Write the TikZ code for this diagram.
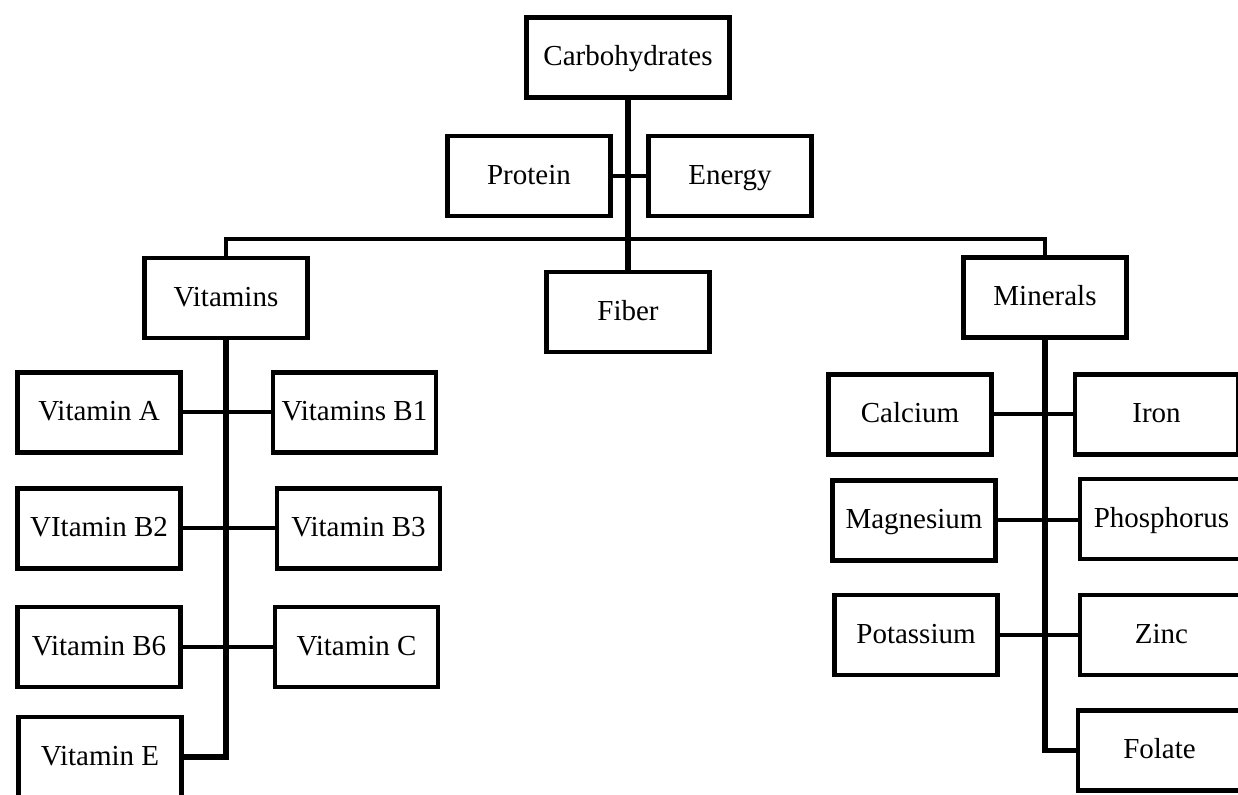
\documentclass[tikz,border=0pt]{standalone}
\usepackage{fontspec}
\setmainfont{Liberation Serif}
\begin{document}
\begin{tikzpicture}[x=0.5pt,y=-0.5pt,
  box/.style={draw=black, line width=2.25pt, minimum width=81.5pt, minimum height=40pt,
    inner sep=0pt, text height=0.95em, text depth=0.1em,
    font=\fontsize{14.5}{17}\selectfont, text=black},
  wide/.style={minimum width=101.5pt},
  link/.style={draw=black, line width=2pt},
  trunk/.style={draw=black, line width=2.6pt}]
\useasboundingbox (0,0) rectangle (1238,795);
\clip (0,0) rectangle (1238,795);
\fill[white] (0,0) rectangle (1238,795);
% top
\node[box,wide] (carb) at (628,57.5) {Carbohydrates};
\node[box] (protein) at (529,176) {Protein};
\node[box] (energy) at (730,176) {Energy};
\node[box] (fiber) at (628,312) {Fiber};
\node[box] (vitamins) at (226,298) {Vitamins};
\node[box] (minerals) at (1045,297.5) {Minerals};
% vitamins
\node[box] (vA) at (99,412.5) {Vitamin A};
\node[box] (vB1) at (354.5,412.5) {Vitamins B1};
\node[box] (vB2) at (99,528.5) {VItamin B2};
\node[box] (vB3) at (358.5,528.5) {Vitamin B3};
\node[box] (vB6) at (99,647) {Vitamin B6};
\node[box] (vC) at (356.5,647) {Vitamin C};
\node[box] (vE) at (100,757) {Vitamin E};
% minerals
\node[box] (ca) at (910,414.5) {Calcium};
\node[box] (fe) at (1156.5,414.5) {Iron};
\node[box] (mg) at (914,520.5) {Magnesium};
\node[box] (p) at (1161.5,519) {Phosphorus};
\node[box] (k) at (916,635) {Potassium};
\node[box] (zn) at (1161.5,635) {Zinc};
\node[box] (fol) at (1159.5,750.5) {Folate};
% connectors
\coordinate (bus) at (628,239.5);
\draw[trunk] (carb.south) -- (fiber.north);
\draw[link] (protein.east) -- (energy.west);
\draw[link] (vitamins.north) |- (bus) -| (minerals.north);
\draw[trunk] (vitamins.south) |- (vE.east);
\draw[link] (vA.east) -- (vB1.west);
\draw[link] (vB2.east) -- (vB3.west);
\draw[link] (vB6.east) -- (vC.west);
\draw[trunk] (minerals.south) |- (fol.west);
\draw[link] (ca.east) -- (fe.west);
\draw[link] (mg.east) -- (mg.east -| p.west);
\draw[link] (k.east) -- (zn.west);
\end{tikzpicture}
\end{document}
